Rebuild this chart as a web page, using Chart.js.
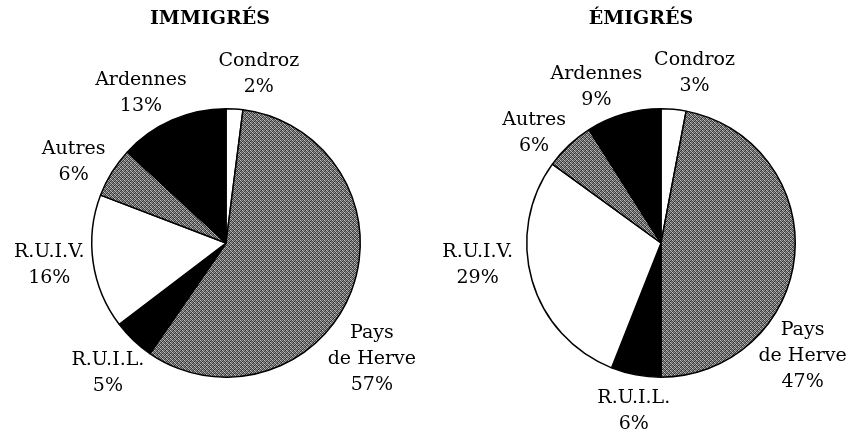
<!DOCTYPE html>
<html>
<head>
<meta charset="utf-8">
<script src="https://cdn.jsdelivr.net/npm/chart.js@4.4.1/dist/chart.umd.min.js"></script>
<style>
  html, body { margin: 0; padding: 0; background: #fff; }
  #wrap { position: relative; width: 848px; height: 437px; }
  .box { position: absolute; top: 0; width: 424px; height: 437px; }
  #left { left: 0; }
  #right { left: 424px; }
</style>
</head>
<body>
<div id="wrap">
  <div class="box" id="left"><canvas id="immigres"></canvas></div>
  <div class="box" id="right"><canvas id="emigres"></canvas></div>
</div>
<script>
// slices go clockwise from 12 o'clock
const regions = ['Condroz', 'Pays de Herve', 'R.U.I.L.', 'R.U.I.V.', 'Autres', 'Ardennes'];
const immigres = [2, 57, 5, 16, 6, 13];
const emigres = [3, 47, 6, 29, 6, 9];

// label text lines (Pays de Herve breaks in two)
const labelLines = [['Condroz'], ['Pays', 'de Herve'], ['R.U.I.L.'], ['R.U.I.V.'], ['Autres'], ['Ardennes']];

// hand nudges so labels sit where the original put them
const nudgeImm = [[21, 3], [-32, 50], [8, 5], [3, -2], [-1, 10], [-8, 8]];
const nudgeEmi = [[16, 2], [-48, 96], [7, -1], [-9, -26], [-5, 16], [-11, 9]];

const FONT = '"DejaVu Serif", "Liberation Serif", serif';

// stippled grey like the printed original (fixed tile, no randomness)
function greyPattern() {
  const tile = document.createElement('canvas');
  tile.width = 4; tile.height = 4;
  const c = tile.getContext('2d');
  const v = [
    [190, 90, 150, 55],
    [75, 165, 45, 130],
    [140, 40, 195, 100],
    [65, 120, 85, 175]
  ];
  for (let y = 0; y < 4; y++) {
    for (let x = 0; x < 4; x++) {
      const g = v[y][x];
      c.fillStyle = `rgb(${g},${g},${g})`;
      c.fillRect(x, y, 1, 1);
    }
  }
  return c.createPattern(tile, 'repeat');
}

const grey = greyPattern();
const fills = ['#ffffff', grey, '#000000', '#ffffff', grey, '#000000'];

// draws the title and the outside labels from the arc elements
const outsideLabels = {
  id: 'outsideLabels',
  afterDatasetsDraw(chart, args, opts) {
    const ctx = chart.ctx;
    const meta = chart.getDatasetMeta(0);
    const data = chart.data.datasets[0].data;
    const lh = 26;
    ctx.save();
    ctx.fillStyle = '#000';
    ctx.textBaseline = 'middle';
    ctx.textAlign = 'center';

    // title
    const first = meta.data[0];
    ctx.font = 'bold 19px ' + FONT;
    ctx.fillText(opts.title, first.x + opts.titleDx, 19);

    ctx.font = '19px ' + FONT;
    meta.data.forEach((arc, i) => {
      const mid = (arc.startAngle + arc.endAngle) / 2;
      const r = arc.outerRadius + 12;
      const px = arc.x + Math.cos(mid) * r;
      const py = arc.y + Math.sin(mid) * r;
      const lines = labelLines[i].concat([data[i] + '%']);
      let w = 0;
      lines.forEach(t => { w = Math.max(w, ctx.measureText(t).width); });
      const h = lines.length * lh;
      const cx = px + Math.cos(mid) * w / 2 + opts.nudge[i][0];
      const cy = py + Math.sin(mid) * h / 2 + opts.nudge[i][1];
      lines.forEach((t, k) => {
        ctx.fillText(t, cx, cy - h / 2 + lh / 2 + k * lh);
      });
    });
    ctx.restore();
  }
};

function makePie(id, values, title, titleDx, nudge, padding) {
  new Chart(document.getElementById(id), {
    type: 'pie',
    data: {
      labels: regions,
      datasets: [{
        data: values,
        backgroundColor: fills,
        borderColor: '#000',
        borderWidth: 1.5
      }]
    },
    options: {
      responsive: true,
      maintainAspectRatio: false,
      animation: false,
      layout: { padding: padding },
      plugins: {
        legend: { display: false },
        tooltip: { enabled: false },
        outsideLabels: { title: title, titleDx: titleDx, nudge: nudge }
      }
    },
    plugins: [outsideLabels]
  });
}

makePie('immigres', immigres, 'IMMIGRÉS', -16, nudgeImm, { left: 91, right: 63, top: 108, bottom: 59 });
makePie('emigres', emigres, 'ÉMIGRÉS', -20, nudgeEmi, { left: 102, right: 52, top: 108, bottom: 59 });
</script>
</body>
</html>
